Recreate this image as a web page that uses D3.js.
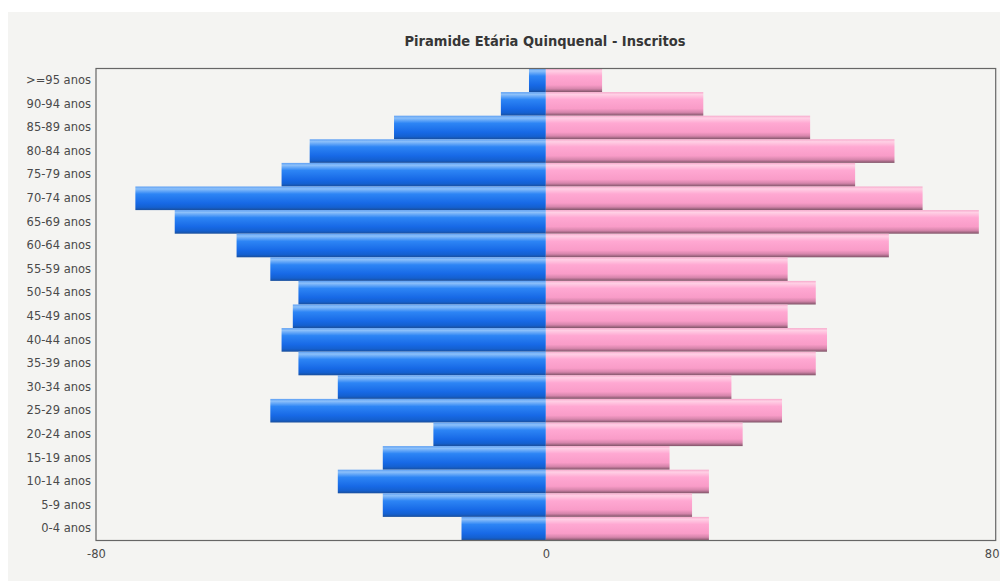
<!DOCTYPE html>
<html>
<head>
<meta charset="utf-8">
<script src="https://cdn.jsdelivr.net/npm/d3@7"></script>
<style>
  html, body { margin: 0; padding: 0; background: #ffffff; }
  svg { display: block; }
</style>
</head>
<body>
<svg id="chart" width="1000" height="581"></svg>
<script>
const title = "Piramide Etária Quinquenal - Inscritos";
const categories = [">=95 anos","90-94 anos","85-89 anos","80-84 anos","75-79 anos","70-74 anos","65-69 anos","60-64 anos","55-59 anos","50-54 anos","45-49 anos","40-44 anos","35-39 anos","30-34 anos","25-29 anos","20-24 anos","15-19 anos","10-14 anos","5-9 anos","0-4 anos"];
const male   = [3, 8, 27, 42, 47, 73, 66, 55, 49, 44, 45, 47, 44, 37, 49, 20, 29, 37, 29, 15];
const female = [10, 28, 47, 62, 55, 67, 77, 61, 43, 48, 43, 50, 48, 33, 42, 35, 22, 29, 26, 29];
const xTicks = [-80, 0, 80];

const svg = d3.select("#chart");
const W = 1000, H = 581;
const plot = { left: 96, right: 995.7, top: 68.5, bottom: 540.5 };

// panel background
svg.append("rect").attr("x", 8).attr("y", 12).attr("width", W - 8).attr("height", H - 12).attr("fill", "#f4f4f2");

const defs = svg.append("defs");
const gBlue = defs.append("linearGradient").attr("id", "gBlue").attr("x1", 0).attr("y1", 0).attr("x2", 0).attr("y2", 1);
[["0%", "#5d9ff3"], ["10%", "#8cc0fa"], ["32%", "#2d85f5"], ["70%", "#1769e6"], ["88%", "#1460d0"], ["100%", "#1a4f9c"]]
  .forEach(s => gBlue.append("stop").attr("offset", s[0]).attr("stop-color", s[1]));
const gPink = defs.append("linearGradient").attr("id", "gPink").attr("x1", 0).attr("y1", 0).attr("x2", 0).attr("y2", 1);
[["0%", "#f7a9cc"], ["10%", "#ffd0e5"], ["32%", "#ffa8d2"], ["70%", "#f99cc8"], ["86%", "#d585ab"], ["100%", "#7e5367"]]
  .forEach(s => gPink.append("stop").attr("offset", s[0]).attr("stop-color", s[1]));

const x = d3.scaleLinear().domain([-80, 80]).range([plot.left, plot.right]);
const y = d3.scaleBand().domain(categories).range([plot.top, plot.bottom]).padding(0);

const data = categories.map((c, i) => ({ c, m: male[i], f: female[i] }));

svg.append("g").selectAll("rect").data(data).join("rect")
  .attr("x", d => x(-d.m)).attr("y", d => y(d.c))
  .attr("width", d => x(0) - x(-d.m)).attr("height", y.bandwidth())
  .attr("fill", "url(#gBlue)");

svg.append("g").selectAll("rect").data(data).join("rect")
  .attr("x", x(0)).attr("y", d => y(d.c))
  .attr("width", d => x(d.f) - x(0)).attr("height", y.bandwidth())
  .attr("fill", "url(#gPink)");

// frame
svg.append("rect").attr("x", plot.left).attr("y", plot.top)
  .attr("width", plot.right - plot.left).attr("height", plot.bottom - plot.top)
  .attr("fill", "none").attr("stroke", "#666").attr("stroke-width", 1.2);

// axes
const fontFam = "'DejaVu Sans', Verdana, sans-serif";
const yAxis = svg.append("g").attr("transform", `translate(${plot.left - 1},0)`)
  .call(d3.axisLeft(y).tickSize(0).tickPadding(4));
yAxis.select(".domain").remove();
yAxis.selectAll("text").attr("font-family", fontFam).attr("font-size", 11.5).attr("fill", "#4a4a4a");

const xAxis = svg.append("g").attr("transform", `translate(0,${plot.bottom})`)
  .call(d3.axisBottom(x).tickValues(xTicks).tickSize(0).tickPadding(9).tickFormat(d => String(d)));
xAxis.select(".domain").remove();
xAxis.selectAll("text").attr("font-family", fontFam).attr("font-size", 11.5).attr("fill", "#4a4a4a");
// keep the last tick label inside the picture
xAxis.selectAll(".tick").filter(d => d === 80).select("text")
  .attr("text-anchor", "end").attr("dx", W - 1 - x(80));

svg.append("text").attr("x", 545).attr("y", 46).attr("text-anchor", "middle")
  .attr("font-family", fontFam).attr("font-size", 14.5).attr("font-weight", "bold")
  .attr("fill", "#363636").attr("textLength", 281).attr("lengthAdjust", "spacingAndGlyphs")
  .text(title);
</script>
</body>
</html>
